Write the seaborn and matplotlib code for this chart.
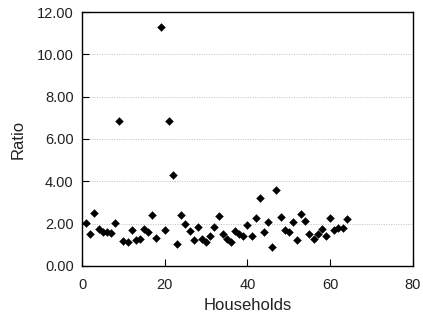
import matplotlib
matplotlib.use('Agg')
import matplotlib.pyplot as plt
import seaborn as sns
import pandas as pd
from matplotlib.ticker import FormatStrFormatter

# household index and ratio values
households = [1, 2, 3, 4, 5, 6, 7, 8, 9, 10, 11, 12, 13, 14, 15, 16,
              17, 18, 19, 20, 21, 22, 23, 24, 25, 26, 27, 28, 29, 30, 31, 32,
              33, 34, 35, 36, 37, 38, 39, 40, 41, 42, 43, 44, 45, 46, 47, 48,
              49, 50, 51, 52, 53, 54, 55, 56, 57, 58, 59, 60, 61, 62, 63, 64]
ratio = [2.01, 1.50, 2.49, 1.73, 1.59, 1.59, 1.54, 2.04, 6.83, 1.18, 1.12, 1.68, 1.23, 1.26, 1.73, 1.59,
         2.41, 1.31, 11.29, 1.68, 6.87, 4.31, 1.04, 2.42, 1.98, 1.64, 1.21, 1.83, 1.27, 1.13, 1.40, 1.84,
         2.36, 1.50, 1.29, 1.13, 1.65, 1.52, 1.42, 1.94, 1.42, 2.28, 3.21, 1.60, 2.08, 0.90, 3.58, 2.33,
         1.71, 1.62, 2.09, 1.24, 2.47, 2.14, 1.52, 1.29, 1.52, 1.75, 1.42, 2.28, 1.68, 1.79, 1.81, 2.23]

x_ticks = [0, 20, 40, 60, 80]
y_ticks = [0, 2, 4, 6, 8, 10, 12]

df = pd.DataFrame({'Households': households, 'Ratio': ratio})

sns.set_style('white')
plt.rcParams['font.family'] = ['Liberation Sans', 'DejaVu Sans']

fig = plt.figure(figsize=(4.23, 3.27), dpi=100)
ax = fig.add_axes([0.194, 0.187, 0.782, 0.776])

# 横向点状网格线
for yv in y_ticks[1:-1]:
    ax.axhline(yv, color='#bdbdbd', linestyle=(0, (1, 1.5)), linewidth=0.7, zorder=0)

sns.scatterplot(data=df, x='Households', y='Ratio', marker='D', s=16,
                color='black', edgecolor='black', linewidth=0.3, ax=ax, zorder=3)

ax.set_xlim(0, 80)
ax.set_ylim(0, 12)
ax.set_xticks(x_ticks)
ax.set_yticks(y_ticks)
ax.yaxis.set_major_formatter(FormatStrFormatter('%.2f'))
ax.tick_params(bottom=True, left=True, direction='in', length=5, width=0.8,
               labelsize=10.5, colors='black', labelcolor='#222222', pad=6)
ax.tick_params(axis='x', pad=9)

for sp in ax.spines.values():
    sp.set_color('black')
    sp.set_linewidth(1.0)

ax.set_xlabel('Households', fontsize=12, labelpad=4, color='#222222')
ax.set_ylabel('Ratio', fontsize=12, labelpad=8, color='#222222')

fig.savefig('out.png', dpi=100)
